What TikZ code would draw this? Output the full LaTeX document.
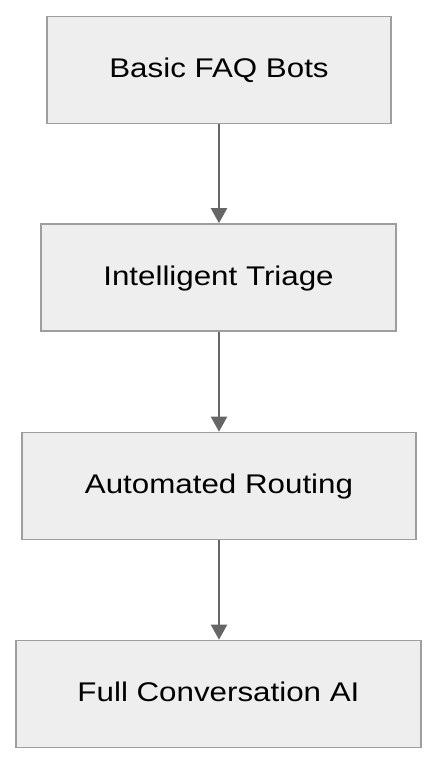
\documentclass[tikz,border=0pt]{standalone}
\usepackage{fontspec}
\setmainfont{Liberation Sans}[FakeStretch=1.16]
\usetikzlibrary{arrows.meta}
\definecolor{boxfill}{HTML}{EEEEEE}
\definecolor{boxline}{HTML}{9E9E9E}
\definecolor{arrowline}{HTML}{666666}
\begin{document}
\begin{tikzpicture}[x=1pt,y=-1pt,
  stage/.style={draw=boxline,fill=boxfill,line width=1.6pt,inner sep=0pt,
    minimum height=107pt,text height=20pt,text depth=5pt,
    font=\fontsize{27}{31}\selectfont,text=black},
  flow/.style={draw=arrowline,line width=2pt,-{Triangle[length=15pt,width=16pt]}}]
\useasboundingbox (0,0) rectangle (438,764);
\node[stage,minimum width=344pt] (a) at (219,70) {Basic FAQ Bots};
\node[stage,minimum width=355pt] (b) at (218.5,277.5) {Intelligent Triage};
\node[stage,minimum width=394pt] (c) at (219,486) {Automated Routing};
\node[stage,minimum width=405pt] (d) at (218.5,694) {Full Conversation AI};
\draw[flow] (a.south -| 219,0) -- (b.north -| 219,0);
\draw[flow] (b.south -| 219,0) -- (c.north -| 219,0);
\draw[flow] (c.south -| 219,0) -- (d.north -| 219,0);
\end{tikzpicture}
\end{document}
